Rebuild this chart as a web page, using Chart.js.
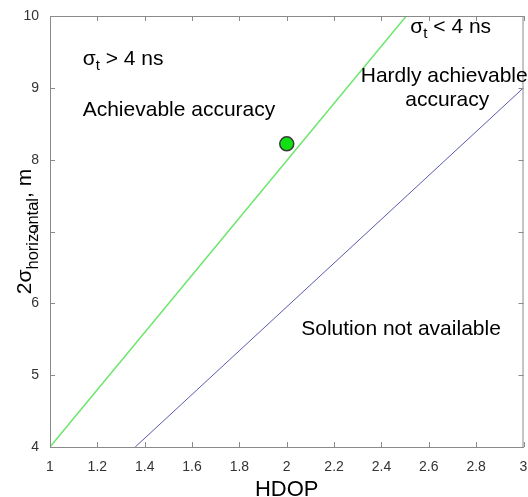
<!DOCTYPE html>
<html>
<head>
<meta charset="utf-8">
<script src="https://cdn.jsdelivr.net/npm/chart.js@4/dist/chart.umd.min.js"></script>
<style>
html,body{margin:0;padding:0;background:#fff;overflow:hidden;}
#wrap{position:relative;width:532px;height:497px;}
</style>
</head>
<body>
<div id="wrap"><canvas id="c"></canvas></div>
<script>
// ---- data ----
const xTickValues = [1, 1.2, 1.4, 1.6, 1.8, 2, 2.2, 2.4, 2.6, 2.8, 3];
const yTickValues = [4, 5, 6, 7, 8, 9, 10];
const greenX = [1, 2.505];
const greenY = [4, 10];
const blueX = [1.36, 3];
const blueY = [4, 9];
const pointX = [2];
const pointY = [8.22];
const xTitle = 'HDOP';
const annotations = [
  { main: 'σ', sub: 't', tail: ' > 4 ns', x: 1.138, y: 9.318, align: 'left' },
  { main: 'Achievable accuracy', x: 1.138, y: 8.607, align: 'left' },
  { main: 'σ', sub: 't', tail: ' < 4 ns', x: 2.522, y: 9.763, align: 'left' },
  { main: 'Hardly achievable', x: 2.665, y: 9.081, align: 'center' },
  { main: 'accuracy', x: 2.678, y: 8.753, align: 'center' },
  { main: 'Solution not available', x: 2.061, y: 5.557, align: 'left' }
];

const toPts = (xs, ys) => xs.map((x, i) => ({ x: x, y: ys[i] }));
const FONT = '"Liberation Sans", Arial, sans-serif';
const AXIS = '#8a8a8a';

const decor = {
  id: 'decor',
  afterDraw(chart) {
    const { ctx, chartArea: a, scales } = chart;
    const xs = scales.x, ys = scales.y;
    ctx.save();
    // top and right border
    ctx.strokeStyle = AXIS;
    ctx.lineWidth = 1;
    ctx.beginPath();
    ctx.moveTo(a.left, a.top + 0.5); ctx.lineTo(a.right, a.top + 0.5);
    ctx.moveTo(a.right - 0.5, a.top); ctx.lineTo(a.right - 0.5, a.bottom);
    ctx.stroke();
    // inward ticks
    const TL = 5;
    ctx.beginPath();
    xTickValues.forEach(v => {
      const px = Math.round(xs.getPixelForValue(v)) + 0.5;
      ctx.moveTo(px, a.bottom); ctx.lineTo(px, a.bottom - TL);
      ctx.moveTo(px, a.top); ctx.lineTo(px, a.top + TL);
    });
    yTickValues.forEach(v => {
      const py = Math.round(ys.getPixelForValue(v)) + 0.5;
      ctx.moveTo(a.left, py); ctx.lineTo(a.left + TL, py);
      ctx.moveTo(a.right, py); ctx.lineTo(a.right - TL, py);
    });
    ctx.stroke();

    // annotations
    ctx.fillStyle = '#000';
    ctx.textBaseline = 'alphabetic';
    annotations.forEach(t => {
      const px = xs.getPixelForValue(t.x), py = ys.getPixelForValue(t.y);
      const mainFont = '21px ' + FONT, subFont = '15px ' + FONT;
      ctx.font = mainFont;
      const w1 = ctx.measureText(t.main).width;
      let w2 = 0, w3 = 0;
      if (t.sub) { ctx.font = subFont; w2 = ctx.measureText(t.sub).width; ctx.font = mainFont; w3 = ctx.measureText(t.tail).width; }
      const total = w1 + w2 + w3;
      let x0 = t.align === 'center' ? px - total / 2 : px;
      ctx.textAlign = 'left';
      ctx.font = mainFont;
      ctx.fillText(t.main, x0, py);
      if (t.sub) {
        ctx.font = subFont;
        ctx.fillText(t.sub, x0 + w1, py + 5);
        ctx.font = mainFont;
        ctx.fillText(t.tail, x0 + w1 + w2, py);
      }
    });

    // x title
    ctx.font = '22px ' + FONT;
    ctx.textAlign = 'center';
    ctx.fillText(xTitle, (a.left + xs.getPixelForValue(3)) / 2, 496);

    // y title (rotated)
    const mf = '21px ' + FONT, sf = '16.5px ' + FONT;
    const parts = [['2σ', mf, 0], ['horizontal', sf, 6.5], [', m', mf, 0]];
    let tw = 0;
    parts.forEach(p => { ctx.font = p[1]; p.push(ctx.measureText(p[0]).width); tw += p[3]; });
    ctx.translate(31, (a.top + a.bottom) / 2);
    ctx.rotate(-Math.PI / 2);
    ctx.textAlign = 'left';
    let cx = -tw / 2;
    parts.forEach(p => { ctx.font = p[1]; ctx.fillText(p[0], cx, p[2]); cx += p[3]; });
    ctx.restore();
  }
};

new Chart(document.getElementById('c'), {
  type: 'scatter',
  data: {
    datasets: [
      { data: toPts(greenX, greenY), showLine: true, borderColor: '#6ee66e', borderWidth: 1.5, pointRadius: 0, tension: 0 },
      { data: toPts(blueX, blueY), showLine: true, borderColor: '#5a5ab0', borderWidth: 1, pointRadius: 0, tension: 0 },
      { data: toPts(pointX, pointY), showLine: false, pointRadius: 7, pointBackgroundColor: '#11e011', pointBorderColor: '#3a3a3a', pointBorderWidth: 1.5 }
    ]
  },
  options: {
    responsive: true,
    maintainAspectRatio: false,
    animation: false,
    events: [],
    layout: { padding: { top: 16, right: 3, bottom: 0, left: 0 } },
    plugins: { legend: { display: false }, tooltip: { enabled: false } },
    scales: {
      x: {
        type: 'linear', min: 1, max: 3,
        grid: { display: false },
        border: { display: true, color: AXIS, width: 1 },
        afterBuildTicks: s => { s.ticks = xTickValues.map(v => ({ value: v })); },
        ticks: { autoSkip: false, maxRotation: 0, padding: 4, color: '#333', font: { family: FONT, size: 14 }, callback: v => String(v) },
        afterFit: s => { s.height = 50; s.paddingLeft = 0; s.paddingRight = 0; }
      },
      y: {
        type: 'linear', min: 4, max: 10,
        grid: { display: false },
        border: { display: true, color: AXIS, width: 1 },
        afterBuildTicks: s => { s.ticks = yTickValues.map(v => ({ value: v })); },
        ticks: { autoSkip: false, padding: 3, color: '#333', font: { family: FONT, size: 14 }, callback: v => String(v) },
        afterFit: s => { s.width = 50; s.paddingTop = 0; s.paddingBottom = 0; }
      }
    }
  },
  plugins: [decor]
});
</script>
</body>
</html>
